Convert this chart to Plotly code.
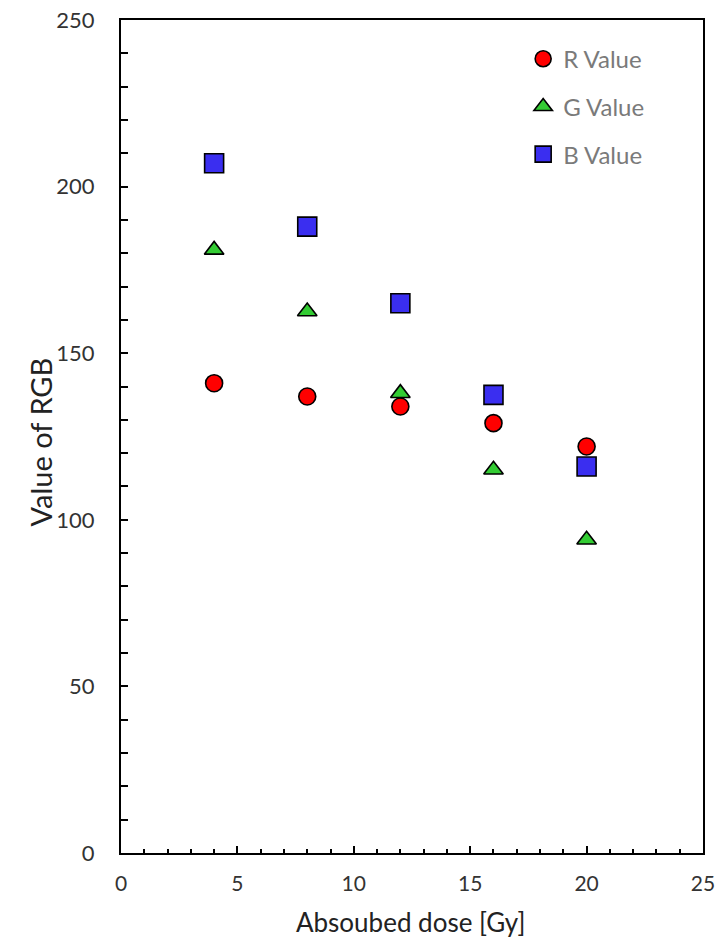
import plotly.graph_objects as go

dose = [4, 8, 12, 16, 20]
r_vals = [141, 137, 134, 129, 122]
g_vals = [181, 162.5, 138, 115, 94]
b_vals = [207, 188, 165, 137.5, 116]

series = [
    ("R Value", r_vals, "circle", "#FF0000", 17),
    ("G Value", g_vals, "triangle-up", "#33CC33", 17),
    ("B Value", b_vals, "square", "#3A2EF0", 19),
]

fig = go.Figure()
for i, (name, vals, sym, col, sz) in enumerate(series):
    fig.add_trace(go.Scatter(
        x=dose, y=vals, mode="markers", name=name, legendgroup=name,
        marker=dict(symbol=sym, color=col, size=sz,
                    line=dict(color="black", width=1.6)),
    ))

font_family = "Lato, Open Sans, sans-serif"
fig.update_layout(
    width=715, height=940,
    margin=dict(l=121, r=12, t=20, b=87),
    plot_bgcolor="white", paper_bgcolor="white",
    font=dict(family=font_family, size=22, color="#333333"),
    showlegend=True,
    legend=dict(x=0.691, y=0.980, xanchor="left", yanchor="top",
                traceorder="grouped", tracegroupgap=13.5,
                itemwidth=30, font=dict(size=24, color="#7a7a7a"),
                bgcolor="rgba(0,0,0,0)"),
    xaxis=dict(range=[0, 25], dtick=5, tick0=0, automargin=False,
               showline=True, linecolor="black", linewidth=2, mirror=True,
               ticks="inside", ticklen=7, tickwidth=2, tickcolor="black",
               minor=dict(dtick=1, ticks="inside", ticklen=4, tickwidth=2, tickcolor="black"),
               showgrid=False, zeroline=False,
               tickfont=dict(size=21), ticklabeloverflow="allow",
               ticklabelstandoff=11),
    yaxis=dict(range=[0, 250], dtick=50, tick0=0, automargin=False,
               showline=True, linecolor="black", linewidth=2, mirror=True,
               ticks="inside", ticklen=7, tickwidth=2, tickcolor="black",
               minor=dict(dtick=10, ticks="inside", ticklen=7, tickwidth=2, tickcolor="black"),
               showgrid=False, zeroline=False,
               ticklabelstandoff=20),
    annotations=[
        dict(text="Absoubed dose [Gy]", xref="paper", yref="paper",
             x=0.498, y=-0.083, xanchor="center", yanchor="middle",
             showarrow=False, font=dict(size=26, color="#222222")),
        dict(text="Value of RGB", xref="paper", yref="paper",
             x=-0.139, y=0.493, xanchor="center", yanchor="middle",
             textangle=-90, showarrow=False, font=dict(size=29, color="#222222")),
    ],
)

fig.write_html("out.html")
